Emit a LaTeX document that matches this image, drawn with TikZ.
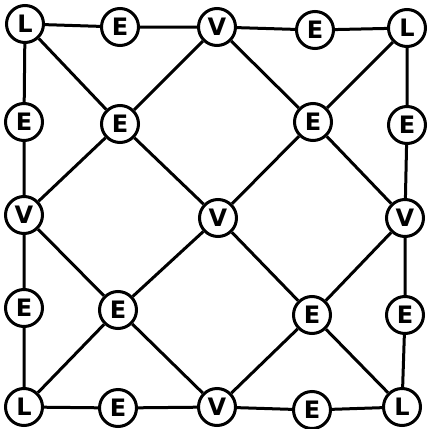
\documentclass[tikz,border=0pt]{standalone}
\usepackage{fontspec}
\setmainfont{DejaVu Sans}
\begin{document}
\begin{tikzpicture}[x=1pt,y=-1pt,
  vtx/.style={circle,draw,line width=3pt,minimum size=37pt,inner sep=0pt,fill=white,
    font=\fontsize{24}{24}\selectfont\bfseries},
  edge/.style={line width=3pt}]
\useasboundingbox (0,0) rectangle (428,429);
% nodes
\node[vtx] (tl) at (25,24) {L};
\node[vtx] (t1) at (120,27) {E};
\node[vtx] (tv) at (217,27) {V};
\node[vtx] (t2) at (315,30) {E};
\node[vtx] (tr) at (407,28) {L};
\node[vtx] (l1) at (24,122) {E};
\node[vtx] (lv) at (24,215) {V};
\node[vtx] (l2) at (24,308) {E};
\node[vtx] (bl) at (24,407) {L};
\node[vtx] (r1) at (407,125) {E};
\node[vtx] (rv) at (405,218) {V};
\node[vtx] (r2) at (405,315) {E};
\node[vtx] (br) at (402,407) {L};
\node[vtx] (b1) at (118,408) {E};
\node[vtx] (bv) at (217,407) {V};
\node[vtx] (b2) at (312,410) {E};
\node[vtx] (i1) at (120,124) {E};
\node[vtx] (i2) at (313,122) {E};
\node[vtx] (cv) at (218,218) {V};
\node[vtx] (i3) at (118,310) {E};
\node[vtx] (i4) at (312,315) {E};
% edges
\draw[edge] (tl) -- (t1) (t1) -- (tv) (tv) -- (t2) (t2) -- (tr);
\draw[edge] (tr) -- (r1) (r1) -- (rv) (rv) -- (r2) (r2) -- (br);
\draw[edge] (br) -- (b2) (b2) -- (bv) (bv) -- (b1) (b1) -- (bl);
\draw[edge] (bl) -- (l2) (l2) -- (lv) (lv) -- (l1) (l1) -- (tl);
\draw[edge] (tl) -- (i1) (i1) -- (cv) (cv) -- (i4) (i4) -- (br);
\draw[edge] (tr) -- (i2) (i2) -- (cv) (cv) -- (i3) (i3) -- (bl);
\draw[edge] (tv) -- (i1) (i1) -- (lv);
\draw[edge] (tv) -- (i2) (i2) -- (rv);
\draw[edge] (lv) -- (i3) (i3) -- (bv);
\draw[edge] (rv) -- (i4) (i4) -- (bv);
\end{tikzpicture}
\end{document}
